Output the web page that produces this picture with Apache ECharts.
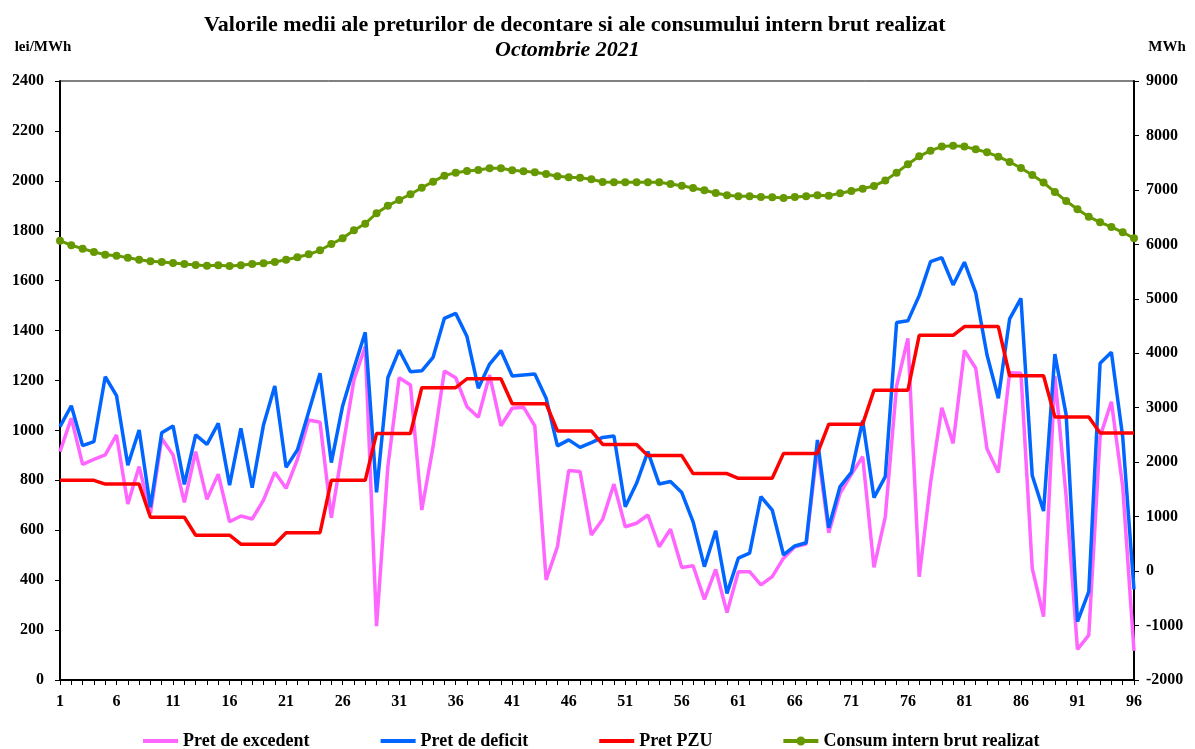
<!DOCTYPE html>
<html>
<head>
<meta charset="utf-8">
<script src="https://cdn.jsdelivr.net/npm/echarts@6/dist/echarts.min.js"></script>
<style>
html,body{margin:0;padding:0;background:#fff;}
#chart{width:1195px;height:749px;}
</style>
</head>
<body>
<div id="chart"></div>
<script>
var categories = [];
for (var i = 1; i <= 96; i++) categories.push(String(i));

var pretExcedent = [915,1049,864,884,902,982,705,855,668,968,902,712,915,724,825,634,657,645,721,832,768,884,1042,1033,650,928,1202,1336,216,855,1211,1182,681,935,1238,1211,1095,1053,1222,1019,1089,1093,1018,401,534,839,835,581,644,785,614,628,661,534,604,451,458,323,443,270,434,434,381,414,488,534,545,928,590,748,824,895,451,654,1178,1369,414,788,1091,948,1320,1249,926,831,1231,1229,447,254,1218,735,123,180,975,1115,775,117];

var pretDeficit = [1015,1099,939,955,1215,1139,861,1002,692,991,1018,784,982,944,1028,781,1008,771,1022,1178,852,922,1075,1229,871,1098,1249,1393,752,1211,1322,1235,1239,1293,1449,1469,1376,1169,1266,1320,1218,1222,1226,1129,938,962,932,951,972,978,694,788,915,785,795,751,634,454,598,347,488,508,735,681,501,537,550,962,610,775,832,1039,731,815,1432,1439,1540,1676,1692,1583,1674,1552,1302,1129,1447,1529,819,677,1306,1062,234,354,1269,1313,975,363];

var pretPZU = [800,800,800,800,785,785,785,785,652,652,652,652,580,580,580,580,544,544,544,544,590,590,590,590,800,800,800,800,988,988,988,988,1171,1171,1171,1171,1207,1207,1207,1207,1107,1107,1107,1107,998,998,998,998,944,944,944,944,899,899,899,899,827,827,827,827,808,808,808,808,908,908,908,908,1025,1025,1025,1025,1161,1161,1161,1161,1381,1381,1381,1381,1416,1416,1416,1416,1219,1219,1219,1219,1054,1054,1054,1054,990,990,990,990];

var consum = [6068,5983,5921,5860,5811,5793,5756,5719,5689,5677,5658,5640,5622,5609,5615,5603,5615,5640,5652,5677,5719,5762,5817,5891,6007,6111,6258,6380,6571,6711,6815,6920,7040,7152,7262,7317,7348,7366,7397,7397,7360,7342,7323,7293,7250,7231,7225,7195,7146,7140,7140,7140,7140,7140,7109,7078,7036,6993,6944,6901,6883,6883,6870,6867,6852,6870,6883,6901,6895,6938,6980,7023,7073,7171,7317,7471,7617,7721,7795,7813,7795,7746,7690,7611,7513,7403,7275,7134,6962,6797,6644,6509,6405,6320,6222,6112];

var FONT = '"Liberation Serif", "Times New Roman", serif';
var chart = echarts.init(document.getElementById('chart'));
var axisTxt = {color:'#000', fontFamily:FONT, fontWeight:'bold', fontSize:16};
function plain(v){ return String(v); }

var BOX = 'M0,0L0.01,0L0.01,0.01Z M35,10L34.99,10L34.99,9.99Z ';
var barIcon = 'path://' + BOX + 'M0,3L35,3L35,7L0,7Z';
var dotIcon = 'path://' + BOX + 'M0,3L35,3L35,7L0,7Z M13,5A4.5,4.5 0 1,1 22,5A4.5,4.5 0 1,1 13,5Z';

chart.setOption({
  animation:false,
  backgroundColor:'#fff',
  title:[
    {text:'Valorile medii ale preturilor de decontare si ale consumului intern brut realizat', left:199, top:9,
     textStyle:{fontFamily:FONT, fontWeight:'bold', fontSize:22, color:'#000'}},
    {text:'Octombrie 2021', left:490, top:34,
     textStyle:{fontFamily:FONT, fontWeight:'bold', fontStyle:'italic', fontSize:22, color:'#000'}}
  ],
  grid:{left:60, right:61, top:81, bottom:69, show:true, borderColor:'#000', borderWidth:1},
  legend:{
    left:138, top:727, itemGap:71, itemWidth:35, itemHeight:10,
    textStyle:{fontFamily:FONT, fontWeight:'bold', fontSize:18, color:'#000'},
    data:[
      {name:'Pret de excedent', icon:barIcon},
      {name:'Pret de deficit', icon:barIcon},
      {name:'Pret PZU', icon:barIcon},
      {name:'Consum intern brut realizat', icon:dotIcon}
    ]
  },
  xAxis:{
    type:'category', data:categories, boundaryGap:false,
    axisLine:{lineStyle:{color:'#000', width:2}},
    axisTick:{show:true, interval:0, length:5, lineStyle:{color:'#000'}},
    axisLabel:Object.assign({interval:4, margin:14}, axisTxt),
    splitLine:{show:false}
  },
  yAxis:[
    {type:'value', min:0, max:2400, interval:200, name:'lei/MWh', nameLocation:'end', nameGap:26,
     nameTextStyle:{fontFamily:FONT, fontWeight:'bold', fontSize:15, color:'#000', align:'center', padding:[0,34,0,0]},
     axisLine:{show:true, lineStyle:{color:'#000', width:2}},
     axisTick:{show:true, length:5, lineStyle:{color:'#000'}},
     axisLabel:Object.assign({margin:16, formatter:plain}, axisTxt),
     splitLine:{show:false}},
    {type:'value', min:-2000, max:9000, interval:1000, name:'MWh', nameLocation:'end', nameGap:26,
     nameTextStyle:{fontFamily:FONT, fontWeight:'bold', fontSize:15, color:'#000', align:'center', padding:[0,0,0,66]},
     axisLine:{show:true, lineStyle:{color:'#000', width:2}},
     axisTick:{show:true, length:5, lineStyle:{color:'#000'}},
     axisLabel:Object.assign({margin:12, formatter:plain}, axisTxt),
     splitLine:{show:false}}
  ],
  series:[
    {name:'Pret de excedent', type:'line', data:pretExcedent, yAxisIndex:0, showSymbol:false, symbol:'none',
     lineStyle:{color:'#FF66FF', width:3.5}, itemStyle:{color:'#FF66FF'}},
    {name:'Pret de deficit', type:'line', data:pretDeficit, yAxisIndex:0, showSymbol:false, symbol:'none',
     lineStyle:{color:'#0066FF', width:3.5}, itemStyle:{color:'#0066FF'}},
    {name:'Pret PZU', type:'line', data:pretPZU, yAxisIndex:0, showSymbol:false, symbol:'none',
     lineStyle:{color:'#FF0000', width:3.5}, itemStyle:{color:'#FF0000'}},
    {name:'Consum intern brut realizat', type:'line', data:consum, yAxisIndex:1, symbol:'circle', symbolSize:8,
     showAllSymbol:true,
     lineStyle:{color:'#669900', width:3}, itemStyle:{color:'#669900'}}
  ]
});
</script>
</body>
</html>
